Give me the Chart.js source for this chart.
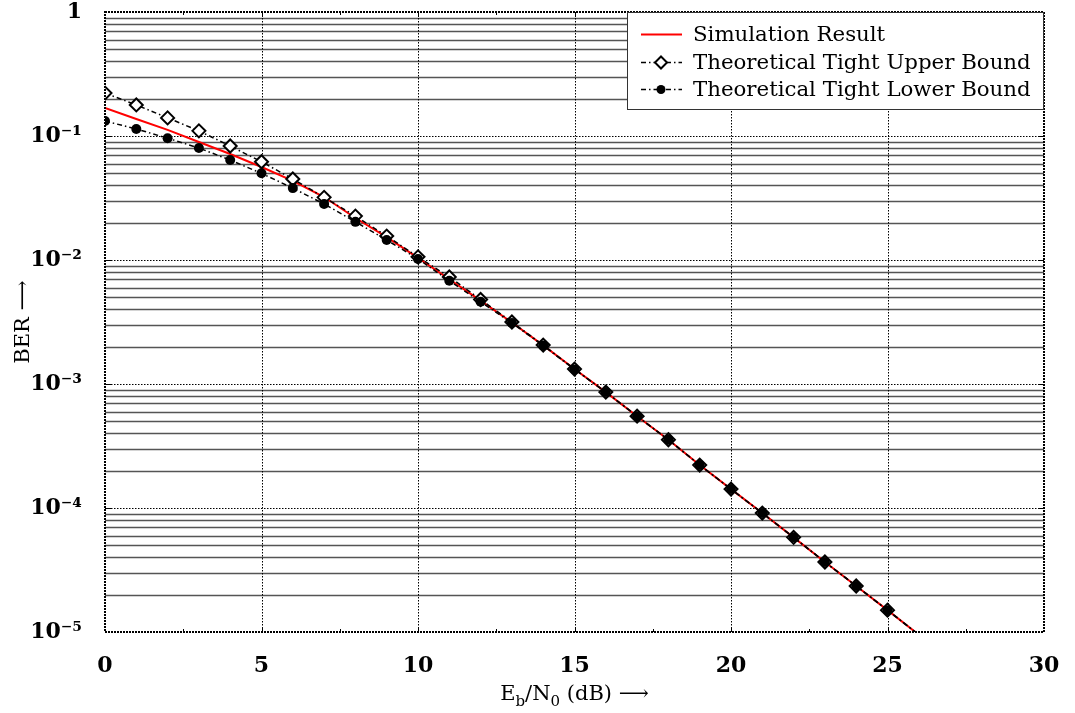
<!DOCTYPE html>
<html>
<head>
<meta charset="utf-8">
<script src="https://cdn.jsdelivr.net/npm/chart.js@4.4.1/dist/chart.umd.min.js"></script>
<style>
  html, body { margin: 0; padding: 0; background: #fff; }
  #wrap { width: 1075px; height: 713px; position: relative; }
</style>
</head>
<body>
<div id="wrap"><canvas id="c" width="1075" height="713"></canvas></div>
<script>
// ---- data ----
const ebn0 = [0,1,2,3,4,5,6,7,8,9,10,11,12,13,14,15,16,17,18,19,20,21,22,23,24,25,26];
const simulation = [0.168,0.137,0.112,0.0895,0.0716,0.0562,0.0434,0.0322,0.0218,0.0153,0.0104,0.0070,0.0047,0.00313,0.00205,0.00132,0.00086,0.00055,0.000355,0.000222,0.000142,0.000091,0.000058,0.0000367,0.0000235,0.000015,0.0000095];
const upperBound = [0.222,0.178,0.140,0.110,0.083,0.062,0.045,0.032,0.0226,0.0156,0.0106,0.0073,0.0048,0.00316,0.00206,0.00132,0.00086,0.00055,0.000355,0.000222,0.000142,0.000091,0.000058,0.0000367,0.0000235,0.000015,0.0000095];
const lowerBound = [0.132,0.114,0.096,0.080,0.064,0.050,0.038,0.0283,0.0203,0.0145,0.0102,0.0068,0.0046,0.00310,0.00204,0.00131,0.00086,0.00055,0.000355,0.000222,0.000142,0.000091,0.000058,0.0000367,0.0000235,0.000015,0.0000095];
const xTicks = [0,5,10,15,20,25,30];
const seriesLabels = ['Simulation Result','Theoretical Tight Upper Bound','Theoretical Tight Lower Bound'];
const xTitleParts = ['E','b','/N','0',' (dB) \u27F6'];
const yTitle = 'BER \u27F6';

const SERIF = '"DejaVu Serif", "Liberation Serif", serif';
const sup = {'-':'\u207B','0':'\u2070','1':'\u00B9','2':'\u00B2','3':'\u00B3','4':'\u2074','5':'\u2075','6':'\u2076','7':'\u2077','8':'\u2078','9':'\u2079'};
function decadeLabel(v){
  const e = Math.log10(v);
  const r = Math.round(e);
  if (Math.abs(e - r) > 1e-6) return '';
  if (r === 0) return '1';
  return '10' + String(r).split('').map(c => sup[c]).join('');
}
const dashDot = [5,3,1.5,3];
const hideBelow = ctx => (ctx.raw && ctx.raw.y < 1e-5) ? 0 : null;

const gridPlugin = {
  id: 'customGrid',
  beforeDatasetsDraw(chart){
    const {ctx, chartArea: a, scales} = chart;
    const xs = scales.x, ys = scales.y;
    ctx.save();
    for (let e = -5; e <= 0; e++){
      for (let m = 1; m <= 9; m++){
        const v = m * Math.pow(10, e);
        if (v > 1.0000001) continue;
        const y = Math.round(ys.getPixelForValue(v)) + 0.5;
        if (m === 1){
          if (v > 0.99 || v < 1.01e-5) continue;
          ctx.strokeStyle = '#000'; ctx.lineWidth = 1; ctx.setLineDash([1.5,1.5]);
          ctx.beginPath(); ctx.moveTo(a.left, y); ctx.lineTo(a.right, y); ctx.stroke();
          ctx.setLineDash([]);
          ctx.beginPath(); ctx.moveTo(a.left, y); ctx.lineTo(a.left+6, y);
          ctx.moveTo(a.right-6, y); ctx.lineTo(a.right, y); ctx.stroke();
        } else {
          ctx.strokeStyle = '#555'; ctx.lineWidth = 1.3; ctx.setLineDash([]);
          ctx.beginPath(); ctx.moveTo(a.left, y); ctx.lineTo(a.right, y); ctx.stroke();
        }
      }
    }
    xTicks.forEach(t => {
      if (t === xTicks[0] || t === xTicks[xTicks.length-1]) return;
      const x = Math.round(xs.getPixelForValue(t)) + 0.5;
      ctx.strokeStyle = '#000'; ctx.lineWidth = 1; ctx.setLineDash([1.5,1.5]);
      ctx.beginPath(); ctx.moveTo(x, a.top); ctx.lineTo(x, a.bottom); ctx.stroke();
      ctx.setLineDash([]);
      ctx.beginPath(); ctx.moveTo(x, a.top); ctx.lineTo(x, a.top+5);
      ctx.moveTo(x, a.bottom-5); ctx.lineTo(x, a.bottom); ctx.stroke();
    });
    for (let i = 0; i < xTicks.length-1; i++){
      const t = (xTicks[i]+xTicks[i+1])/2;
      const x = Math.round(xs.getPixelForValue(t)) + 0.5;
      ctx.strokeStyle = '#000'; ctx.lineWidth = 1; ctx.setLineDash([]);
      ctx.beginPath(); ctx.moveTo(x, a.top); ctx.lineTo(x, a.top+3);
      ctx.moveTo(x, a.bottom-3); ctx.lineTo(x, a.bottom); ctx.stroke();
    }
    ctx.restore();
  },
  afterDatasetsDraw(chart){
    const {ctx, chartArea: a} = chart;
    ctx.save();
    ctx.strokeStyle = '#000'; ctx.lineWidth = 2; ctx.setLineDash([2,1]);
    ctx.strokeRect(a.left, a.top, a.right - a.left, a.bottom - a.top);
    ctx.restore();
  },
  afterDraw(chart){
    const {ctx, chartArea: a} = chart;
    ctx.save();
    const bx = a.right - 417, by = a.top, bw = 417, bh = 98;
    ctx.fillStyle = '#fff'; ctx.fillRect(bx, by, bw, bh);
    ctx.strokeStyle = '#333'; ctx.lineWidth = 1; ctx.setLineDash([]);
    ctx.strokeRect(bx + 0.5, by + 0.5, bw - 1, bh - 1);
    const rows = [by + 22, by + 50, by + 77];
    const ds = chart.data.datasets;
    ds.forEach((d, i) => {
      const y = rows[i] + 0.5;
      const x0 = bx + 14, x1 = bx + 55, xm = bx + 34;
      ctx.strokeStyle = d.borderColor; ctx.lineWidth = d.borderWidth;
      ctx.setLineDash(d.borderDash || []);
      ctx.beginPath(); ctx.moveTo(x0, y); ctx.lineTo(x1, y); ctx.stroke();
      ctx.setLineDash([]);
      if (i === 1){
        ctx.fillStyle = '#fff'; ctx.strokeStyle = '#000'; ctx.lineWidth = 2;
        ctx.beginPath(); ctx.moveTo(xm, y-6); ctx.lineTo(xm+6, y); ctx.lineTo(xm, y+6); ctx.lineTo(xm-6, y); ctx.closePath();
        ctx.fill(); ctx.stroke();
      } else if (i === 2){
        ctx.fillStyle = '#000';
        ctx.beginPath(); ctx.arc(xm, y, 4.5, 0, Math.PI*2); ctx.fill();
      }
      ctx.fillStyle = '#000';
      ctx.font = '21.3px ' + SERIF;
      ctx.textBaseline = 'middle'; ctx.textAlign = 'left';
      ctx.fillText(d.label, bx + 66, rows[i] + 1);
    });
    const big = '21px ' + SERIF, small = '15px ' + SERIF;
    const fonts = [big, small, big, small, big];
    const dy = [0, 6, 0, 6, 0];
    let total = 0;
    xTitleParts.forEach((p, i) => { ctx.font = fonts[i]; total += ctx.measureText(p).width; });
    let x = (a.left + a.right) / 2 - total / 2;
    const base = 700;
    ctx.textBaseline = 'alphabetic'; ctx.textAlign = 'left'; ctx.fillStyle = '#000';
    xTitleParts.forEach((p, i) => {
      ctx.font = fonts[i];
      ctx.fillText(p, x, base + dy[i]);
      x += ctx.measureText(p).width;
    });
    ctx.restore();
  }
};

const mk = (arr) => ebn0.map((x, i) => ({x: x, y: arr[i]}));

new Chart(document.getElementById('c'), {
  type: 'line',
  data: {
    datasets: [
      { label: seriesLabels[0], data: mk(simulation), borderColor: '#ff0000', borderWidth: 2,
        pointRadius: 0, tension: 0, order: 2 },
      { label: seriesLabels[1], data: mk(upperBound), borderColor: '#000', borderWidth: 1.5,
        borderDash: dashDot, pointStyle: 'rectRot', pointRadius: ctx => hideBelow(ctx) ?? 6.5,
        pointBackgroundColor: '#fff', pointBorderColor: '#000', pointBorderWidth: 2, order: 1 },
      { label: seriesLabels[2], data: mk(lowerBound), borderColor: '#000', borderWidth: 1.5,
        borderDash: dashDot, pointStyle: 'circle', pointRadius: ctx => hideBelow(ctx) ?? 5,
        pointBackgroundColor: '#000', pointBorderColor: '#000', pointBorderWidth: 0, order: 0 }
    ]
  },
  options: {
    responsive: false,
    animation: false,
    layout: { padding: { top: 12, right: 31, left: 0, bottom: 0 } },
    plugins: { legend: { display: false }, tooltip: { enabled: false } },
    scales: {
      x: {
        type: 'linear', min: 0, max: 30,
        grid: { display: false }, border: { display: false },
        afterBuildTicks: s => { s.ticks = xTicks.map(v => ({value: v})); },
        ticks: { color: '#000', font: { family: SERIF, size: 22, weight: 'bold' }, padding: 13, maxRotation: 0 },
        afterFit: s => { s.height = 81; s.paddingLeft = 0; s.paddingRight = 0; }
      },
      y: {
        type: 'logarithmic', min: 1e-5, max: 1,
        grid: { display: false }, border: { display: false },
        ticks: { color: '#000', font: { family: SERIF, size: 22, weight: 'bold' }, padding: 15,
                 autoSkip: false, callback: v => decadeLabel(v) },
        title: { display: true, text: yTitle, color: '#000', font: { family: SERIF, size: 21 }, padding: 11 },
        afterFit: s => { s.width = 105; s.paddingTop = 0; s.paddingBottom = 0; }
      }
    }
  },
  plugins: [gridPlugin]
});
</script>
</body>
</html>
